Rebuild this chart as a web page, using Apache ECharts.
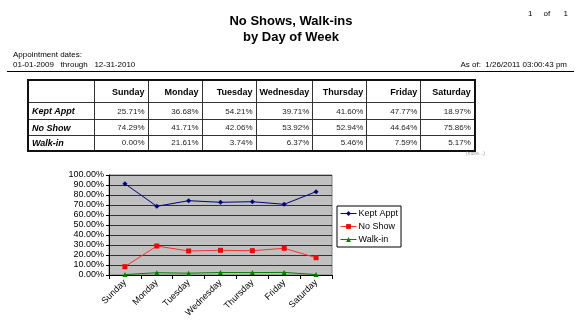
<!DOCTYPE html>
<html>
<head>
<meta charset="utf-8">
<script src="https://cdn.jsdelivr.net/npm/echarts@6/dist/echarts.min.js"></script>
<style>
  html, body { margin: 0; padding: 0; background: #fff; }
  #wrap { position: relative; width: 582px; height: 324px; overflow: hidden; font-family: "Liberation Sans", Arial, sans-serif; color: #000; }
  #chart { position: absolute; left: 0; top: 0; width: 582px; height: 324px; }
  .t { position: absolute; white-space: pre; line-height: 1; }
  #tbl { position: absolute; left: 27px; top: 79px; border-collapse: collapse; border: 2px solid #111; table-layout: fixed; }
  #tbl td, #tbl th { border: 1px solid #333; padding: 0 3px 0 3px; text-align: right; white-space: nowrap; overflow: hidden; }
  #tbl th { font-weight: bold; font-size: 9px; height: 21px; }
  #tbl td { font-size: 8px; color: #222; }
  #tbl td.lab { text-align: left; font-weight: bold; font-style: italic; font-size: 9px; color: #000; }
</style>
</head>
<body>
<div id="wrap">
  <div id="chart"></div>
  <div class="t" style="left:0;width:582px;text-align:center;top:14px;font-size:13px;font-weight:bold;">No Shows, Walk-ins</div>
  <div class="t" style="left:0;width:582px;text-align:center;top:30px;font-size:13px;font-weight:bold;">by Day of Week</div>
  <div class="t" style="left:528px;top:10px;font-size:8px;">1     of      1</div>
  <div class="t" style="left:13px;top:51px;font-size:8px;">Appointment dates:</div>
  <div class="t" style="left:13px;top:61px;font-size:8px;">01-01-2009   through   12-31-2010</div>
  <div class="t" style="right:15px;top:61px;font-size:8px;">As of:  1/26/2011 03:00:43 pm</div>
  <div style="position:absolute;left:7px;top:71px;width:567px;height:0;border-top:1.5px solid #000;"></div>
  <table id="tbl"></table>
  <div class="t" style="left:466px;top:151px;font-size:5px;color:#999;">(more...)</div>
</div>
<script>
// ---- data ----
var days = ['Sunday', 'Monday', 'Tuesday', 'Wednesday', 'Thursday', 'Friday', 'Saturday'];
var rowLabels = ['Kept Appt', 'No Show', 'Walk-in'];
// table values (%)
var tableKept   = [25.71, 36.68, 54.21, 39.71, 41.60, 47.77, 18.97];
var tableNoShow = [74.29, 41.71, 42.06, 53.92, 52.94, 44.64, 75.86];
var tableWalkIn = [0.00, 21.61, 3.74, 6.37, 5.46, 7.59, 5.17];
// chart values (%)
var chartKept   = [91.3, 68.7, 74.3, 72.7, 73.3, 70.7, 83.3];
var chartNoShow = [8.3, 29.0, 24.0, 24.7, 24.3, 26.7, 17.3];
var chartWalkIn = [0.4, 2.3, 1.8, 2.5, 2.4, 2.6, 0.4];
var yTicks = [0, 10, 20, 30, 40, 50, 60, 70, 80, 90, 100];

// ---- table ----
(function () {
  var tbl = document.getElementById('tbl');
  var html = '<colgroup><col style="width:66px">';
  for (var i = 0; i < days.length; i++) html += '<col style="width:54px">';
  html += '</colgroup><tr><th></th>';
  days.forEach(function (d) { html += '<th>' + d + '</th>'; });
  html += '</tr>';
  var rows = [tableKept, tableNoShow, tableWalkIn];
  var hs = [17, 16, 15];
  rows.forEach(function (r, k) {
    html += '<tr style="height:' + hs[k] + 'px"><td class="lab">' + rowLabels[k] + '</td>';
    r.forEach(function (v) { html += '<td>' + v.toFixed(2) + '%</td>'; });
    html += '</tr>';
  });
  tbl.innerHTML = html;
})();

// ---- chart ----
var chart = echarts.init(document.getElementById('chart'), null, { renderer: 'canvas' });
var font = '"Liberation Sans", Arial, sans-serif';
chart.setOption({
  animation: false,
  textStyle: { fontFamily: font },
  grid: {
    left: 109, top: 175, width: 223, height: 100,
    show: true, backgroundColor: '#C0C0C0', borderColor: '#808080', borderWidth: 1,
    containLabel: false
  },
  legend: {
    left: 337, top: 206, orient: 'vertical',
    backgroundColor: '#fff', borderColor: '#000', borderWidth: 1,
    padding: [3, 3, 3, 3], itemGap: 4, itemWidth: 16, itemHeight: 6,
    lineStyle: { width: 1 },
    textStyle: { fontSize: 9, color: '#000', fontFamily: font, padding: [0, 0, 0, -3] },
    data: rowLabels
  },
  xAxis: {
    type: 'category', data: days, boundaryGap: true,
    axisLine: { lineStyle: { color: '#000', width: 1 } },
    axisTick: { show: true, length: 4, alignWithLabel: false, lineStyle: { color: '#000' } },
    axisLabel: { rotate: 45, fontSize: 9, color: '#000', margin: 6, interval: 0, fontFamily: font },
    splitLine: { show: false }
  },
  yAxis: {
    type: 'value', min: yTicks[0], max: yTicks[yTicks.length - 1], interval: 10,
    axisLine: { show: true, lineStyle: { color: '#000', width: 1 } },
    axisTick: { show: true, length: 3, lineStyle: { color: '#000' } },
    axisLabel: { fontSize: 9, color: '#000', margin: 5, fontFamily: font,
      formatter: function (v) { return v.toFixed(2) + '%'; } },
    splitLine: { show: true, lineStyle: { color: '#333', width: 1 } }
  },
  series: [
    { name: rowLabels[0], type: 'line', data: chartKept, symbol: 'diamond', symbolSize: 5,
      itemStyle: { color: '#000080' }, lineStyle: { color: '#000080', width: 1 } },
    { name: rowLabels[1], type: 'line', data: chartNoShow, symbol: 'rect', symbolSize: 5,
      itemStyle: { color: '#FF0000' }, lineStyle: { color: '#FF3030', width: 1 } },
    { name: rowLabels[2], type: 'line', data: chartWalkIn, symbol: 'triangle', symbolSize: 5,
      itemStyle: { color: '#008000' }, lineStyle: { color: '#008000', width: 1 } }
  ]
});
</script>
</body>
</html>
